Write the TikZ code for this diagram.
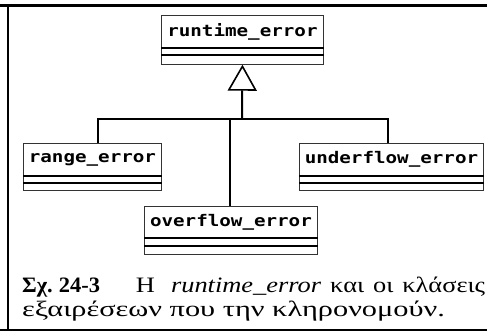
\documentclass[tikz,border=0pt]{standalone}
\usepackage{fontspec}
\usetikzlibrary{arrows.meta}
\setmainfont{Liberation Serif}
\newfontfamily\classfont[FakeStretch=1.2]{DejaVu Sans Mono Bold}
\newfontfamily\capfont[FakeStretch=1.2]{Liberation Serif}
\newfontfamily\capbold[FakeStretch=1.02]{Liberation Serif Bold}
\newfontfamily\capwide[FakeStretch=1.38]{Liberation Serif}

\tikzset{
  frameline/.style={line width=2.6pt, line cap=rect},
  classname/.style={draw=black!80, line width=0.9pt, inner sep=0pt, anchor=north west,
    font=\classfont\fontsize{16}{16}\selectfont},
  compart/.style={draw=black!80, line width=0.9pt, inner sep=0pt, anchor=north},
  divider/.style={line width=2pt},
  link/.style={line width=2pt},
  inherit/.style={line width=2pt, -{Triangle[open, length=26pt, width=29pt, line width=1.6pt]}},
  capline/.style={anchor=base west, inner sep=0pt}
}

% one class box: name compartment plus two empty compartments
\newcommand\classbox[8]{%
  % #1 name, #2 x, #3 y, #4 width, #5 name height, #6 gap1, #7 gap2, #8 label
  \node[classname, minimum width=#4pt, minimum height=#5pt] (#1) at (#2,#3) {#8};
  \node[compart, minimum width=#4pt, minimum height=#6pt] (#1-a) at (#1.south) {};
  \node[compart, minimum width=#4pt, minimum height=#7pt] (#1-b) at (#1-a.south) {};
  \draw[divider] (#1.south west) -- (#1.south east);
  \draw[divider] (#1-a.south west) -- (#1-a.south east);
}

\begin{document}
\begin{tikzpicture}[x=1pt, y=-1pt]
  \useasboundingbox (0,0) rectangle (487,333);

  % page frame
  \draw[frameline] (0,5.5) -- (487,5.5);
  \draw[frameline] (8,5.5) -- (8,330);
  \draw[frameline] (0,330) -- (487,330);

  % classes
  \classbox{rt}{161}{15}{162}{32}{6.5}{8.5}{runtime\_error}
  \classbox{rg}{23}{143}{138}{32}{6}{7.5}{range\_error}
  \classbox{uf}{299}{143}{184}{32}{6}{7.5}{underflow\_error}
  \classbox{of}{144}{206}{173}{31}{7}{8}{overflow\_error}

  % inheritance tree
  \coordinate (j) at (242,119);
  \coordinate (jl) at (98,119);
  \coordinate (jr) at (388,119);
  \coordinate (jo) at (230,119);
  \draw[inherit] (j) -- (rt-b.south);
  \draw[link, line cap=rect] (jl) -- (jr);
  \draw[link] (jl) -- (jl |- rg.north);
  \draw[link] (jr) -- (jr |- uf.north);
  \draw[link] (jo) -- (jo |- of.north);

  % caption, two lines; the first is set to the full width
  \node[capline, font=\capfont\fontsize{22}{24}\selectfont] (cap1) at (22,292)
    {\makebox[463pt][s]{{\capbold Σχ.\hspace{6pt}24-3}\hspace{36pt}Η\hspace{16pt}\textit{runtime\_error} και οι κλάσεις}};
  \node[capline, font=\capwide\fontsize{22}{24}\selectfont] (cap2) at (22,316)
    {εξαιρέσεων που την κληρονομούν.};
\end{tikzpicture}
\end{document}
